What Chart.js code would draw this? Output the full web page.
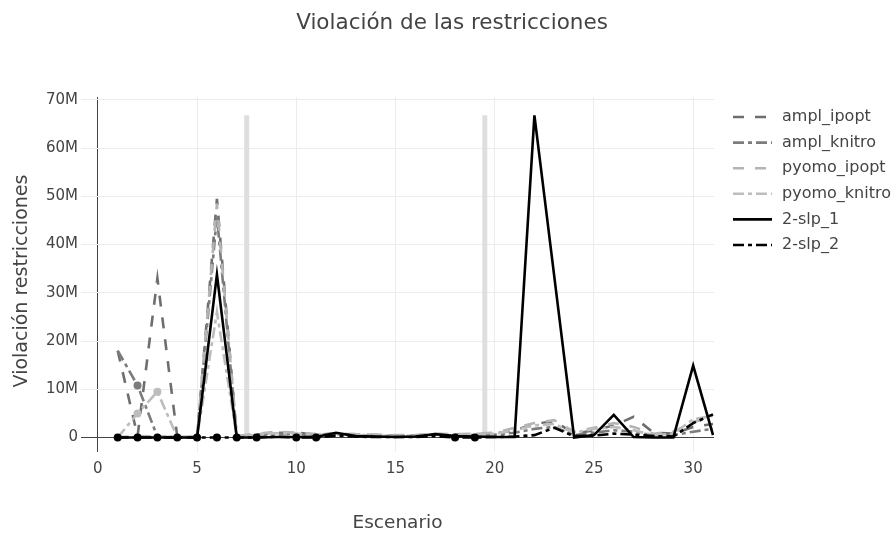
<!DOCTYPE html>
<html>
<head>
<meta charset="utf-8">
<script src="https://cdn.jsdelivr.net/npm/chart.js@4.4.1/dist/chart.umd.min.js"></script>
<style>
  html, body { margin: 0; padding: 0; background: #fff; }
  #wrap { width: 896px; height: 535px; position: relative; }
</style>
</head>
<body>
<div id="wrap"><canvas id="c" width="896" height="535"></canvas></div>
<script>
// ---- data ----
const scenarios = [1,2,3,4,5,6,7,8,9,10,11,12,13,14,15,16,17,18,19,20,21,22,23,24,25,26,27,28,29,30,31];
const amplIpopt   = [18e6,0.3e6,33e6,0.2e6,0.1e6,49.5e6,0.2e6,0.6e6,1.0e6,1.0e6,0.6e6,0.8e6,0.6e6,0.5e6,0.4e6,0.4e6,0.7e6,0.6e6,0.7e6,0.8e6,1.5e6,2.8e6,3.4e6,0.8e6,1.5e6,2.5e6,4.3e6,1.0e6,0.8e6,2.2e6,2.8e6];
const amplKnitro  = [18e6,10.8e6,0.2e6,0.1e6,0.1e6,46e6,0.2e6,0.5e6,0.8e6,0.7e6,0.5e6,0.7e6,0.6e6,0.4e6,0.3e6,0.3e6,0.6e6,0.4e6,0.5e6,0.6e6,1.0e6,1.8e6,2.2e6,0.5e6,1.0e6,1.5e6,1.2e6,0.4e6,0.5e6,1.2e6,1.8e6];
const pyomoIpopt  = [0.1e6,0.3e6,0.2e6,0.1e6,0.1e6,48.5e6,0.3e6,0.8e6,1.2e6,1.0e6,0.7e6,0.9e6,0.7e6,0.6e6,0.5e6,0.5e6,0.8e6,0.7e6,0.8e6,1.0e6,2.0e6,3.0e6,3.6e6,1.2e6,2.0e6,3.0e6,2.2e6,0.8e6,1.2e6,3.2e6,4.2e6];
const pyomoKnitro = [0,5e6,9.5e6,0.1e6,0.1e6,26e6,0.2e6,0.6e6,0.9e6,0.8e6,0.5e6,0.6e6,0.5e6,0.4e6,0.3e6,0.4e6,0.6e6,0.5e6,0.6e6,0.8e6,1.5e6,2.5e6,2.8e6,1.0e6,1.8e6,2.2e6,1.5e6,0.5e6,0.8e6,3.8e6,4.5e6];
const slp1        = [0,0,0,0,0,33.8e6,0,0,0.1e6,0.1e6,0.1e6,1.0e6,0.3e6,0.2e6,0.1e6,0.2e6,0.7e6,0.3e6,0.2e6,0.1e6,0.1e6,66.8e6,33.4e6,0,0.5e6,4.7e6,0.1e6,0,0,14.9e6,0.5e6];
const slp2        = [0,0,0,0,0,0,0,0,0.2e6,0,0,0.4e6,0.2e6,0.1e6,0.1e6,0.1e6,0.3e6,0,0,0.1e6,0.2e6,0.5e6,2.0e6,0.3e6,0.4e6,0.8e6,0.6e6,0.3e6,0.2e6,3.0e6,4.8e6];
const seriesNames = ['ampl_ipopt','ampl_knitro','pyomo_ipopt','pyomo_knitro','2-slp_1','2-slp_2'];
// scenarios where markers are visible
const amplKnitroMarkers  = [2];
const pyomoKnitroMarkers = [2,3];
const slp2Markers        = [1,2,3,4,5,6,7,8,10,11,18,19];
// vertical separator bands
const bandPositions = [7.5, 19.5];
const xTicks = [0,5,10,15,20,25,30];
const yTicks = [0,10e6,20e6,30e6,40e6,50e6,60e6,70e6];

// ---- build ----
const allSeries = [amplIpopt, amplKnitro, pyomoIpopt, pyomoKnitro, slp1, slp2];
const markerSets = [[], amplKnitroMarkers, [], pyomoKnitroMarkers, [], slp2Markers];
const colors = ['#6e6e6e', '#7c7c7c', '#b4b4b4', '#bdbdbd', '#000000', '#000000'];
const DASH = [11, 11], DASHDOT = [11, 4, 4, 4];
const dashes = [DASH, DASHDOT, DASH, DASHDOT, [], DASHDOT];
const dataMax = Math.max(...allSeries.map(s => Math.max(...s)));

const datasets = [];
bandPositions.forEach(b => {
  datasets.push({
    label: '_band', isBand: true,
    data: [{x: b, y: 0}, {x: b, y: dataMax}],
    borderColor: '#dedede', borderWidth: 5, pointRadius: 0, order: 10
  });
});
allSeries.forEach((s, i) => {
  const marks = markerSets[i];
  datasets.push({
    label: seriesNames[i],
    data: scenarios.map((x, k) => ({x: x, y: s[k]})),
    borderColor: colors[i],
    backgroundColor: colors[i],
    borderWidth: 2.6,
    borderDash: dashes[i],
    borderCapStyle: 'butt',
    tension: 0,
    pointRadius: ctx => (ctx.raw && marks.includes(ctx.raw.x)) ? 4 : 0,
    pointBackgroundColor: colors[i],
    pointBorderWidth: 0,
    order: 6 - i
  });
});

const FONT = "'DejaVu Sans', Verdana, sans-serif";
const decor = {
  id: 'decor',
  beforeDraw(chart) {
    const c = chart.ctx;
    c.save(); c.fillStyle = '#fff'; c.fillRect(0, 0, chart.width, chart.height); c.restore();
  },
  afterDraw(chart) {
    const c = chart.ctx, a = chart.chartArea;
    c.save();
    c.fillStyle = '#444';
    c.textAlign = 'center'; c.textBaseline = 'middle';
    c.font = '21.5px ' + FONT;
    c.fillText('Violación de las restricciones', 452, 23);
    c.font = '18.5px ' + FONT;
    c.fillText('Escenario', (a.left + a.right) / 2, 523);
    c.save();
    c.translate(22, 281);
    c.rotate(-Math.PI / 2);
    c.font = '19px ' + FONT;
    c.fillText('Violación restricciones', 0, 0);
    c.restore();
    // legend
    const series = chart.data.datasets.filter(d => !d.isBand);
    series.forEach((d, i) => {
      const y = 117 + i * 25.6;
      c.beginPath();
      c.setLineDash(d.borderDash || []);
      c.lineWidth = 2.6;
      c.strokeStyle = d.borderColor;
      c.moveTo(733, y); c.lineTo(772, y);
      c.stroke();
      c.setLineDash([]);
      c.font = '16px ' + FONT;
      c.textAlign = 'left';
      c.fillStyle = '#444';
      c.fillText(d.label, 782, y);
    });
    c.restore();
  }
};

new Chart(document.getElementById('c'), {
  type: 'line',
  data: { datasets },
  plugins: [decor],
  options: {
    responsive: false, animation: false, events: [],
    layout: { padding: { left: 0, right: 182, top: 97, bottom: 0 } },
    plugins: { legend: { display: false }, title: { display: false }, tooltip: { enabled: false } },
    scales: {
      x: {
        type: 'linear', min: -0.85, max: 31.05,
        afterFit: s => { s.height = 83; },
        afterBuildTicks: s => { s.ticks = xTicks.map(v => ({value: v})); },
        border: { display: false },
        grid: { drawTicks: false, lineWidth: 1, color: ctx => ctx.tick && ctx.tick.value === 0 ? '#444' : '#ececec' },
        ticks: { padding: 8, color: '#444', font: { family: FONT, size: 15 }, maxRotation: 0, callback: v => String(v) }
      },
      y: {
        type: 'linear', min: -3.0e6, max: 70.6e6,
        afterFit: s => { s.width = 81; },
        afterBuildTicks: s => { s.ticks = yTicks.map(v => ({value: v})); },
        border: { display: false },
        grid: { drawTicks: false, lineWidth: 1, color: ctx => ctx.tick && ctx.tick.value === 0 ? '#444' : '#ececec' },
        ticks: { padding: 3, color: '#444', font: { family: FONT, size: 15 }, callback: v => v === 0 ? '0' : (v / 1e6) + 'M' }
      }
    }
  }
});
</script>
</body>
</html>
